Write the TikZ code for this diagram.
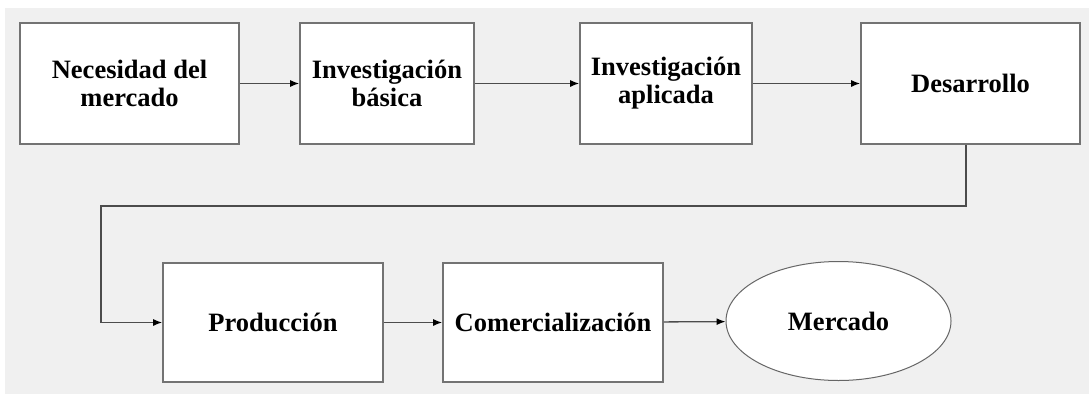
\documentclass[tikz,border=0pt]{standalone}
\usepackage{fontspec}
\setmainfont{Liberation Serif}
\usetikzlibrary{shapes.geometric,arrows.meta}
\begin{document}
\begin{tikzpicture}[x=1pt,y=-1pt,
  stage/.style={draw=black!55,line width=1.6pt,fill=white,inner sep=0pt,
    font=\fontsize{26.5}{28}\selectfont\bfseries,align=center},
  goal/.style={draw=black!60,line width=1pt,fill=white,ellipse,inner sep=0pt,
    font=\fontsize{26.5}{28}\selectfont\bfseries},
  link/.style={draw=black!70,line width=1.3pt,-{Latex[length=9pt,width=7pt,color=black]}}]
  % canvas with its light grey field
  \useasboundingbox (0,0) rectangle (1089,394);
  \fill[white] (0,0) rectangle (1089,394);
  \fill[black!6] (5,8) rectangle (1089,394);
  % upper row
  \node[stage,minimum width=219pt,minimum height=121pt] (need) at (129.5,83.5) {Necesidad del\\mercado};
  \node[stage,minimum width=174pt,minimum height=121pt] (basic) at (387,83.5) {Investigación\\básica};
  \node[stage,minimum width=172pt,minimum height=121pt] (applied) at (666,83.5) {Investigación\\aplicada};
  \node[stage,minimum width=219pt,minimum height=121pt] (dev) at (970.5,83.5) {Desarrollo};
  % lower row
  \node[stage,minimum width=220pt,minimum height=119pt] (prod) at (273,322.5) {Producción};
  \node[stage,minimum width=220pt,minimum height=119pt] (comm) at (553,322.5) {Comercialización};
  \node[goal,minimum width=225pt,minimum height=119pt] (market) at (838.5,321) {Mercado};
  % connectors
  \coordinate (turnA) at (966,206);
  \coordinate (turnB) at (101,206);
  \draw[link] (need) -- (basic);
  \draw[link] (basic) -- (applied);
  \draw[link] (applied) -- (dev);
  \draw[link] (dev.south -| turnA) -- (turnA) -- (turnB) |- (prod.west);
  \draw[link] (prod) -- (comm);
  \draw[link] (comm) -- (market);
\end{tikzpicture}
\end{document}
